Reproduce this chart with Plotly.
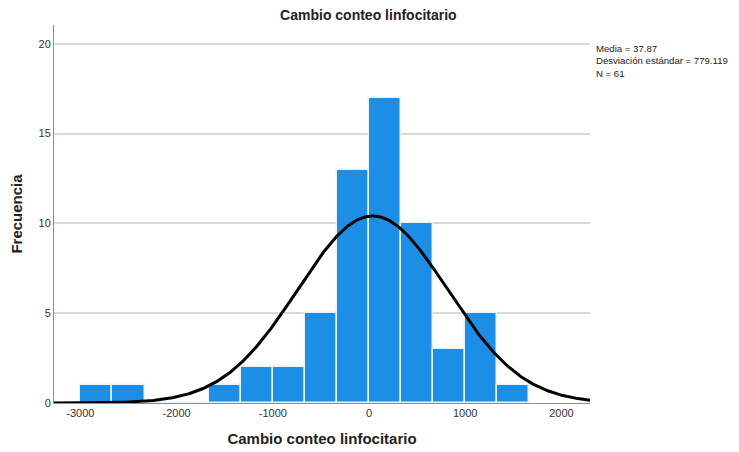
import numpy as np
import plotly.graph_objects as go

# Data
bin_left_edges = [-3000.0, -2666.667, -2333.333, -2000.0, -1666.667, -1333.333, -1000.0,
                  -666.667, -333.333, 0.0, 333.333, 666.667, 1000.0, 1333.333]
bin_width = 333.333
counts = [1, 1, 0, 0, 1, 2, 2, 5, 13, 17, 10, 3, 5, 1]

mean_val = 37.87
std_val = 779.119
n_val = 61

title_text = "Cambio conteo linfocitario"
x_title = "Cambio conteo linfocitario"
y_title = "Frecuencia"
x_ticks = [-3000, -2000, -1000, 0, 1000, 2000]
y_ticks = [0, 5, 10, 15, 20]

x_range = [-3274, 2297]
y_range = [0, 21.05]

centers = [e + bin_width / 2 for e in bin_left_edges]

# Normal curve scaled to the histogram (as SPSS draws it)
xc = np.linspace(x_range[0], x_range[1], 400)
yc = n_val * bin_width / (std_val * np.sqrt(2 * np.pi)) * np.exp(-0.5 * ((xc - mean_val) / std_val) ** 2)

font_family = "Liberation Sans, Arial, sans-serif"

fig = go.Figure()
fig.add_trace(go.Bar(
    x=centers, y=counts, width=[bin_width] * len(counts),
    marker=dict(color="#1c8ee6", line=dict(color="#e8f4fc", width=1.5)),
    hoverinfo="x+y", showlegend=False,
))
fig.add_trace(go.Scatter(
    x=xc, y=yc, mode="lines", line=dict(color="black", width=3),
    showlegend=False, hoverinfo="skip",
))

fig.update_layout(
    width=731, height=444,
    margin=dict(l=46, r=149, t=17, b=49, autoexpand=False),
    paper_bgcolor="white", plot_bgcolor="white",
    font=dict(family=font_family, size=11, color="#333333"),
    title=dict(text="<b>" + title_text + "</b>", x=0.493, xanchor="center",
               yref="container", y=0.983, yanchor="middle",
               font=dict(size=14, color="#222222")),
    bargap=0,
    xaxis=dict(range=x_range, tickvals=x_ticks, ticktext=[str(v) for v in x_ticks],
               showgrid=False, zeroline=False, showline=True, linecolor="#8c8c8c",
               linewidth=1, ticks="", ticklen=0, automargin=False,
               title=dict(text="<b>" + x_title + "</b>", font=dict(size=15, color="#222222"),
                          standoff=15),
               tickfont=dict(size=11, color="#333333")),
    yaxis=dict(range=y_range, tickvals=y_ticks, ticktext=[str(v) for v in y_ticks],
               showgrid=True, gridcolor="#d9d9d9", gridwidth=1.5, zeroline=False,
               showline=True, linecolor="#8c8c8c", linewidth=1, ticks="", automargin=False,
               title=dict(text="<b>" + y_title + "</b>", font=dict(size=15, color="#222222"),
                          standoff=12),
               tickfont=dict(size=11, color="#333333")),
    annotations=[dict(
        text="Media = 37.87<br>Desviación estándar = 779.119<br>N = 61",
        xref="paper", yref="paper", x=1.008, y=0.957, xanchor="left", yanchor="top",
        align="left", showarrow=False, font=dict(size=9.6, color="#222222"),
    )],
)

fig.write_html("out.html")
